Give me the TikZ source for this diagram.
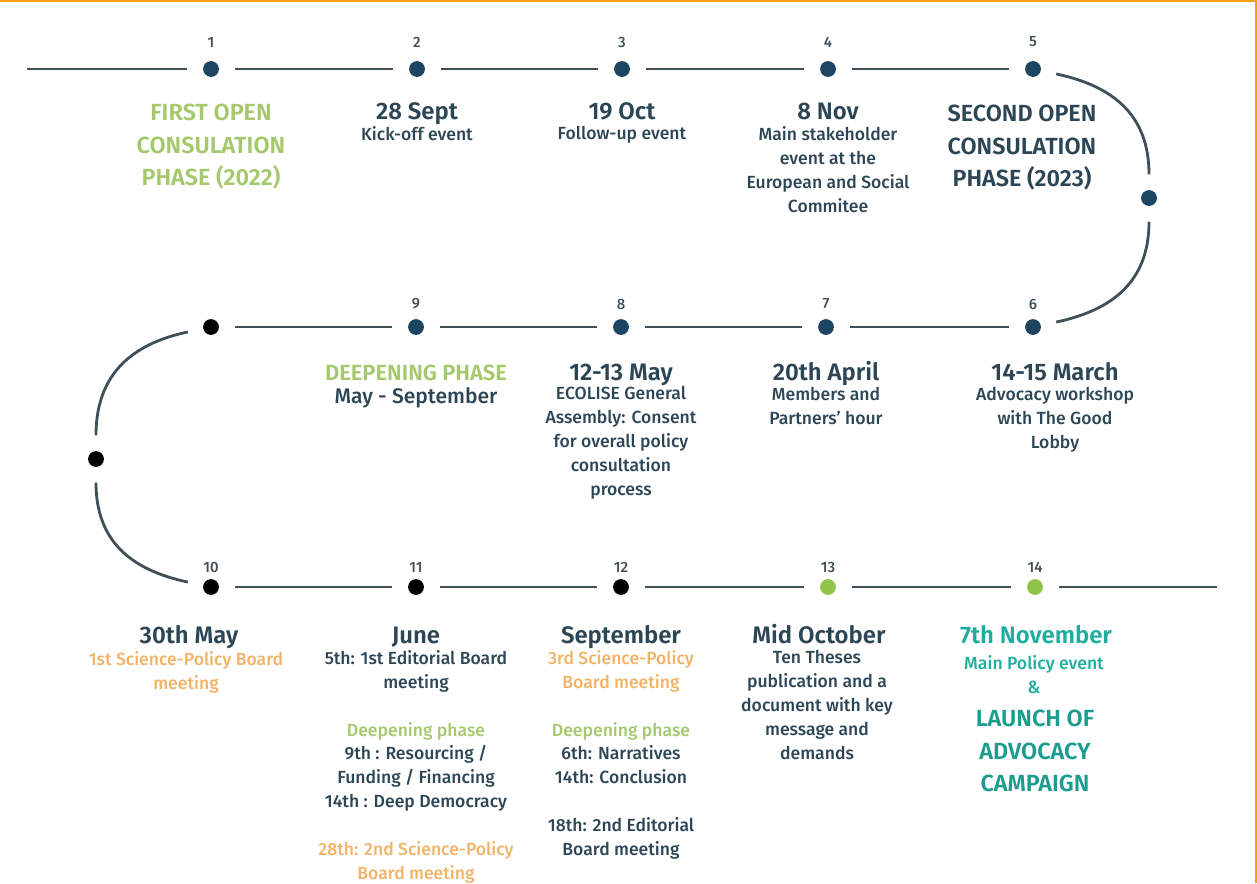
\documentclass[tikz,border=0pt]{standalone}
\usepackage{fontspec}
\setmainfont{Fira Sans}[UprightFont = * Medium, BoldFont = * SemiBold]
\usetikzlibrary{positioning}
\definecolor{tlLine}{HTML}{3F5059}
\definecolor{tlNavy}{HTML}{1B4560}
\definecolor{tlText}{HTML}{2C4655}
\definecolor{tlGreen}{HTML}{A6C86C}
\definecolor{tlDotGreen}{HTML}{8EC44A}
\definecolor{tlOrange}{HTML}{F1B366}
\definecolor{tlTeal}{HTML}{1EAE9E}
\definecolor{tlFrame}{HTML}{F4A300}
\tikzset{
  tl_dot/.style = {circle, inner sep=0pt, minimum size=9pt, outer sep=9pt,
    fill=tlNavy},% point du temps
  tl_blk/.style = {tl_dot, fill=black},
  tl_grn/.style = {tl_dot, fill=tlDotGreen},
  tl_num/.style = {font=\fontsize{8.5}{10}\selectfont, text=tlLine, inner sep=0pt},
  tl_ttl/.style = {font=\fontsize{13.6}{15}\selectfont\bfseries, text=tlText,
    inner sep=0pt, anchor=base},
  tl_txt/.style = {font=\fontsize{10}{13.6}\selectfont, text=tlText,
    align=center, inner sep=0pt, anchor=north},
  tl_phase/.style = {font=\fontsize{13.3}{18.3}\selectfont\bfseries,
    align=center, inner sep=0pt, anchor=north},
  tl_line/.style = {draw=tlLine, line width=1.6pt}
}

\begin{document}
\begin{tikzpicture}[x=0.02cm, y=-0.02cm]
        \useasboundingbox (0,0) rectangle (1257,883);
        \draw[tlFrame, line width=1pt] (0,1) -- (1256,1) -- (1256,883);

        % first row
        \coordinate (s1) at (27,69);
        \node [tl_dot] (d1) at (211,69) {};
        \node [tl_dot] (d2) at (417,69) {};
        \node [tl_dot] (d3) at (622,69) {};
        \node [tl_dot] (d4) at (828,69) {};
        \node [tl_dot] (d5) at (1033,69) {};
        \node [tl_dot] (dR) at (1149,198) {};

        % second row
        \node [tl_dot] (d6) at (1033,327) {};
        \node [tl_dot] (d7) at (826,327) {};
        \node [tl_dot] (d8) at (621,327) {};
        \node [tl_dot] (d9) at (416,327) {};
        \node [tl_blk] (dA) at (211,327) {};
        \node [tl_blk] (dL) at (96,459) {};

        % third row
        \node [tl_blk] (d10) at (211,587) {};
        \node [tl_blk] (d11) at (416,587) {};
        \node [tl_blk] (d12) at (621,587) {};
        \node [tl_grn] (d13) at (828,587) {};
        \node [tl_grn] (d14) at (1035,587) {};
        \coordinate (e3) at (1217,587);

        \draw[tl_line] (s1) -- (d1);
        \draw[tl_line] (d1) -- (d2);
        \draw[tl_line] (d2) -- (d3);
        \draw[tl_line] (d3) -- (d4);
        \draw[tl_line] (d4) -- (d5);
        \draw[tl_line] (d5) to[out=-12, in=90, looseness=1.1] (dR);
        \draw[tl_line] (dR) to[out=-90, in=12, looseness=1.1] (d6);
        \draw[tl_line] (d6) -- (d7);
        \draw[tl_line] (d7) -- (d8);
        \draw[tl_line] (d8) -- (d9);
        \draw[tl_line] (d9) -- (dA);
        \draw[tl_line] (dA) to[out=192, in=90, looseness=1.1] (dL);
        \draw[tl_line] (dL) to[out=-90, in=168, looseness=1.1] (d10);
        \draw[tl_line] (d10) -- (d11);
        \draw[tl_line] (d11) -- (d12);
        \draw[tl_line] (d12) -- (d13);
        \draw[tl_line] (d13) -- (d14);
        \draw[tl_line] (d14) -- (e3);

        % numbers
        \node [tl_num] (n1) at (211,42) {1};
        \node [tl_num] (n2) at (417,42) {2};
        \node [tl_num] (n3) at (622,42) {3};
        \node [tl_num] (n4) at (828,42) {4};
        \node [tl_num] (n5) at (1033,42) {5};
        \node [tl_num] (n6) at (1033,304) {6};
        \node [tl_num] (n7) at (826,304) {7};
        \node [tl_num] (n8) at (621,304) {8};
        \node [tl_num] (n9) at (416,304) {9};
        \node [tl_num] (n10) at (211,567) {10};
        \node [tl_num] (n11) at (416,567) {11};
        \node [tl_num] (n12) at (621,567) {12};
        \node [tl_num] (n13) at (828,567) {13};
        \node [tl_num] (n14) at (1035,567) {14};

        % first row texts
        \node [tl_phase, text=tlGreen] (p1) at (211,104) {FIRST OPEN\\CONSULATION\\PHASE (2022)};
        \node [tl_ttl] (t2) at (417,119) {28 Sept};
        \node [tl_txt] (b2) at (417,126) {Kick-off event};
        \node [tl_ttl] (t3) at (622,119) {19 Oct};
        \node [tl_txt] (b3) at (622,126) {Follow-up event};
        \node [tl_ttl] (t4) at (828,119) {8 Nov};
        \node [tl_txt] (b4) at (828,126) {Main stakeholder\\event at the\\European and Social\\Commitee};
        \node [tl_phase, text=tlText] (p5) at (1022,105) {SECOND OPEN\\CONSULATION\\PHASE (2023)};

        % second row texts
        \node [tl_ttl] (t6) at (1055,380) {14-15 March};
        \node [tl_txt] (b6) at (1055,387) {Advocacy workshop\\with The Good\\Lobby};
        \node [tl_ttl] (t7) at (826,380) {20th April};
        \node [tl_txt] (b7) at (826,387) {Members and\\Partners' hour};
        \node [tl_ttl] (t8) at (621,380) {12-13 May};
        \node [tl_txt] (b8) at (621,386) {ECOLISE General\\Assembly: Consent\\for overall policy\\consultation\\process};
        \node [tl_phase, text=tlGreen, anchor=base, font=\fontsize{12.5}{15}\selectfont\bfseries] (p9) at (416,380) {DEEPENING PHASE};
        \node [tl_ttl, font=\fontsize{12}{14}\selectfont] (t9) at (416,403) {May - September};

        % third row texts
        \node [tl_ttl] (t10) at (189,643) {30th May};
        \node [tl_txt, text=tlOrange] (b10) at (186,651) {1st Science-Policy Board\\meeting};
        \node [tl_ttl] (t11) at (416,643) {June};
        \node [tl_txt] (b11) at (416,650) {5th: 1st Editorial Board\\meeting\\[13.6pt]
          \textcolor{tlGreen}{Deepening phase}\\9th : Resourcing /\\Funding / Financing\\14th : Deep Democracy\\[13.6pt]
          \textcolor{tlOrange}{28th: 2nd Science-Policy}\\\textcolor{tlOrange}{Board meeting}};
        \node [tl_ttl] (t12) at (621,643) {September};
        \node [tl_txt] (b12) at (621,650) {\textcolor{tlOrange}{3rd Science-Policy}\\\textcolor{tlOrange}{Board meeting}\\[13.6pt]
          \textcolor{tlGreen}{Deepening phase}\\6th: Narratives\\14th: Conclusion\\[13.6pt]
          18th: 2nd Editorial\\Board meeting};
        \node [tl_ttl] (t13) at (819,643) {Mid October};
        \node [tl_txt] (b13) at (817,650) {Ten Theses\\publication and a\\document with key\\message and\\demands};
        \node [tl_ttl] (t14) at (1036,643) {\textcolor{tlTeal}{7th November}};
        \node [tl_txt, text=tlTeal] (b14) at (1034,655) {Main Policy event\\\&};
        \node [tl_phase, text=tlTeal!90!black] (p14) at (1035,710) {LAUNCH OF\\ADVOCACY\\CAMPAIGN};
\end{tikzpicture}
\end{document}
